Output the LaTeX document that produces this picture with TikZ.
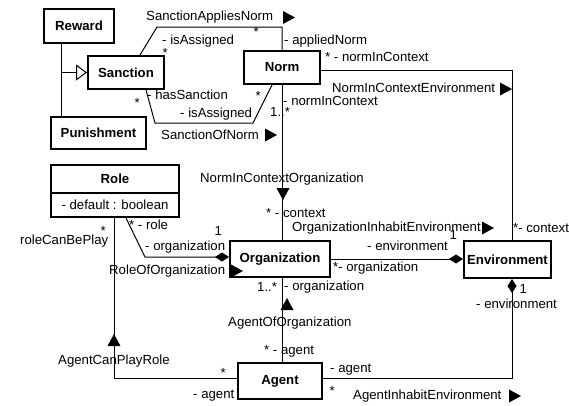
\documentclass[tikz,border=0pt]{standalone}
\usepackage{fontspec}
\setmainfont{Liberation Sans}
\usetikzlibrary{arrows.meta}

\begin{document}
\begin{tikzpicture}[x=1pt,y=-1pt,
        font=\fontsize{13.2}{15}\selectfont,
        cls/.style={draw,line width=2pt,inner sep=0pt,font=\fontsize{13.2}{15}\selectfont\bfseries},
        lbl/.style={anchor=west,inner sep=0pt,text height=9.5pt,text depth=2.5pt},
        assoc/.style={line width=1pt},
        comp/.style={assoc,-{Diamond[length=14pt,width=9pt]}},
        dirr/.pic={\fill (-6,-6.5) -- (6,0) -- (-6,6.5) -- cycle;},
        dirup/.pic={\fill (-6.5,6) -- (6.5,6) -- (0,-6) -- cycle;},
        dirdown/.pic={\fill (-6.5,-6) -- (6.5,-6) -- (0,6) -- cycle;}]
    \useasboundingbox (0,0) rectangle (569,405);

    % classes
    \node[cls,minimum width=70,minimum height=34] (reward) at (79,26) {Reward};
    \node[cls,minimum width=76,minimum height=33] (sanction) at (126,72.5) {Sanction};
    \node[cls,minimum width=95,minimum height=32] (punish) at (98.5,133) {Punishment};
    \node[cls,minimum width=76,minimum height=33] (norm) at (282,67.5) {Norm};
    \node[cls,minimum width=128,minimum height=28] (role) at (115,179) {Role};
    \node[cls,minimum width=128,minimum height=24,font=\fontsize{13.2}{15}\selectfont] (roleattr) at (115,205) {- default : boolean};
    \node[cls,minimum width=100,minimum height=36] (org) at (280,259) {Organization};
    \node[cls,minimum width=87,minimum height=37] (env) at (507.5,259.5) {Environment};
    \node[cls,minimum width=84,minimum height=36] (agent) at (280,381) {Agent};

    % generalization
    \coordinate (genj) at (61,72.5);
    \draw[assoc] (reward.south -| genj) -- (punish.north -| genj);
    \draw[assoc,-{Triangle[open,length=11pt,width=16pt]}] (genj) -- (sanction.west);

    % associations
    \coordinate (sanb) at (157,27);
    \draw[assoc] ([xshift=14pt]sanction.north) -- (sanb) -| (norm.north);
    \coordinate (sonl) at (155,123);
    \coordinate (sonr) at (253,123);
    \draw[assoc] ([xshift=20pt]sanction.south) -- (sonl) -- (sonr) -- ([xshift=-10pt]norm.south);
    \draw[assoc] (norm.south) -- (norm.south |- org.north);
    \coordinate (nice) at (512,70);
    \draw[assoc] (norm.east |- nice) -- (nice) -- (nice |- env.north);
    \coordinate (roob) at (145,257);
    \draw[comp] ([xshift=11pt]roleattr.south) -- (roob) -- (roob -| org.west);
    \coordinate (acpr) at (114,378);
    \draw[assoc] (roleattr.south -| acpr) -- (acpr) -- (acpr -| agent.west);
    \draw[comp] (org.east) -- (org.east -| env.west);
    \draw[assoc] (org.south -| norm.south) -- (agent.north -| norm.south);
    \coordinate (aie) at (512,378);
    \draw[comp] (agent.east |- aie) -- (aie) -- (aie |- env.south);

    % labels
    \node[lbl] (lsan) at (146,17) {SanctionAppliesNorm};
    \pic at (289,17.5) {dirr};
    \node[lbl] (lisas1) at (162,41) {- isAssigned};
    \node[lbl] (lstar1) at (162.5,54) {*};
    \node[lbl] (lstar2) at (253.5,33) {*};
    \node[lbl] (lapn) at (284,41) {- appliedNorm};
    \node[lbl] (lnicn) at (325,58) {* - normInContext};
    \node[lbl] (lnice) at (332,89) {NormInContextEnvironment};
    \pic at (506,89) {dirr};
    \node[lbl] (lstar3) at (134.5,104) {*};
    \node[lbl] (lhass) at (147,96) {- hasSanction};
    \node[lbl] (lisas2) at (180,114) {- isAssigned};
    \node[lbl] (lstar4) at (255.5,97) {*};
    \node[lbl] (lson) at (161,136) {SanctionOfNorm};
    \pic at (271,135) {dirr};
    \node[lbl] (lnic) at (283,102) {- normInContext};
    \node[lbl] (lmany1) at (270,113) {1..*};
    \node[lbl] (lnico) at (200,179) {NormInContextOrganization};
    \pic at (283,194) {dirdown};
    \node[lbl] (lctx1) at (266,214) {* - context};
    \node[lbl] (loie) at (292,228) {OrganizationInhabitEnvironment};
    \pic at (488,228) {dirr};
    \node[lbl] (lctx2) at (513,229) {*- context};
    \node[lbl] (lenv1) at (367,247) {- environment};
    \node[lbl] (lone1) at (449.5,236) {1};
    \node[lbl] (lorg1) at (333,268) {*- organization};
    \node[lbl] (lrole) at (129,226) {* - role};
    \node[lbl] (lone2) at (214.5,232) {1};
    \node[lbl] (lorg2) at (145,247) {- organization};
    \node[lbl] (lroo) at (109,271) {RoleOfOrganization};
    \pic at (237,271) {dirr};
    \node[lbl] (lstar5) at (100.5,232) {*};
    \node[lbl] (lrcbp) at (20,241) {roleCanBePlay};
    \node[lbl] (lmany2) at (257,288) {1..*};
    \node[lbl] (lorg3) at (284,287) {- organization};
    \pic at (287,304) {dirup};
    \node[lbl] (laoo) at (228,323) {AgentOfOrganization};
    \node[lbl] (lagent1) at (264,351) {* - agent};
    \node[lbl] (lacpr) at (58,361) {AgentCanPlayRole};
    \pic at (114,340) {dirup};
    \node[lbl] (lstar6) at (220.5,374) {*};
    \node[lbl] (lagent2) at (193,395) {- agent};
    \node[lbl] (lagent3) at (330,369) {- agent};
    \node[lbl] (lstar7) at (329.5,392) {*};
    \node[lbl] (laie) at (353,396) {AgentInhabitEnvironment};
    \pic at (515,396) {dirr};
    \node[lbl] (lone3) at (519.5,290) {1};
    \node[lbl] (lenv2) at (476,305) {- environment};
\end{tikzpicture}
\end{document}
